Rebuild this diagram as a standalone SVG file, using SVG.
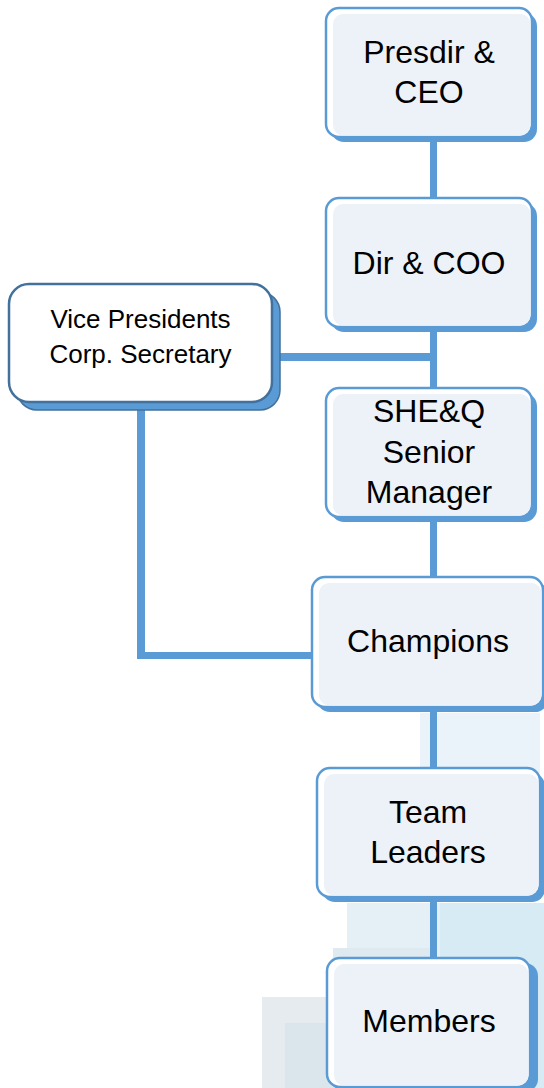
<svg xmlns="http://www.w3.org/2000/svg" width="544" height="1088" viewBox="0 0 544 1088">
<style>
.bg{fill:#ffffff}
.shadow{fill:#5b9bd5}
.outer{fill:#ffffff;stroke:#5b9bd5;stroke-width:2.5}
.inner{fill:#edf2f9}
.lbl{font-family:"Liberation Sans",Arial,sans-serif;font-size:32px;fill:#000000;text-anchor:middle}
.small{font-family:"Liberation Sans",Arial,sans-serif;font-size:26px;fill:#000000;text-anchor:middle}
.conn{fill:#5b9bd5}
.vpshadow{fill:#5b9bd5;stroke:#41719c;stroke-width:1.5}
.vpouter{fill:#ffffff;stroke:#41719c;stroke-width:2.5}
</style>
<rect class="bg" x="0" y="0" width="544" height="1088"/>
<g id="background" opacity="0.9">
<rect x="420" y="713" width="120" height="60" fill="#e7f2f8"/>
<rect x="347" y="903" width="197" height="185" fill="#e2eff5"/>
<rect x="440" y="903" width="104" height="185" fill="#d3e9f3"/>
<rect x="333" y="948" width="100" height="140" fill="#dbe8ef"/>
<rect x="262" y="997" width="80" height="91" fill="#e3e9ee"/>
<rect x="285" y="1023" width="60" height="65" fill="#d6e3ea"/>
</g>
<g id="connectors">
<rect class="conn" x="430" y="137" width="7" height="62"/>
<rect class="conn" x="430" y="327" width="7" height="62"/>
<rect class="conn" x="272" y="353" width="165" height="8"/>
<rect class="conn" x="430" y="517" width="7" height="61"/>
<rect class="conn" x="137" y="402" width="8" height="257"/>
<rect class="conn" x="137" y="652" width="176" height="7"/>
<rect class="conn" x="430" y="707" width="7" height="62"/>
<rect class="conn" x="430" y="897" width="7" height="62"/>
</g>
<g id="node-ceo">
<rect class="shadow" x="331" y="13" width="206" height="129" rx="13"/>
<rect class="outer" x="326" y="8" width="206" height="129" rx="13"/>
<rect class="inner" x="333" y="14" width="197.5" height="121.5" rx="10"/>
<text class="lbl" x="429" y="63">Presdir &amp;</text>
<text class="lbl" x="429" y="103">CEO</text>
</g>
<g id="node-coo">
<rect class="shadow" x="331" y="203" width="206" height="129" rx="13"/>
<rect class="outer" x="326" y="198" width="206" height="129" rx="13"/>
<rect class="inner" x="333" y="204" width="197.5" height="121.5" rx="10"/>
<text class="lbl" x="429" y="274">Dir &amp; COO</text>
</g>
<g id="node-vp">
<rect class="vpshadow" x="17" y="292" width="263" height="118" rx="20"/>
<rect class="vpouter" x="9" y="284" width="263" height="118" rx="20"/>
<text class="small" x="140.5" y="328">Vice Presidents</text>
<text class="small" x="140.5" y="363">Corp. Secretary</text>
</g>
<g id="node-sheq">
<rect class="shadow" x="331" y="393" width="206" height="129" rx="13"/>
<rect class="outer" x="326" y="388" width="206" height="129" rx="13"/>
<rect class="inner" x="333" y="394" width="197.5" height="121.5" rx="10"/>
<text class="lbl" x="429" y="422">SHE&amp;Q</text>
<text class="lbl" x="429" y="463">Senior</text>
<text class="lbl" x="429" y="503">Manager</text>
</g>
<g id="node-champions">
<rect class="shadow" x="317" y="582" width="231" height="130" rx="13"/>
<rect class="outer" x="312" y="577" width="231" height="130" rx="13"/>
<rect class="inner" x="319" y="583" width="222.5" height="122.5" rx="10"/>
<text class="lbl" x="428" y="652">Champions</text>
</g>
<g id="node-teamleaders">
<rect class="shadow" x="322" y="773" width="223" height="129" rx="13"/>
<rect class="outer" x="317" y="768" width="223" height="129" rx="13"/>
<rect class="inner" x="324" y="774" width="214.5" height="121.5" rx="10"/>
<text class="lbl" x="428" y="823">Team</text>
<text class="lbl" x="428" y="863">Leaders</text>
</g>
<g id="node-members">
<rect class="shadow" x="332" y="963" width="206" height="129" rx="13"/>
<rect class="outer" x="327" y="958" width="203" height="129" rx="13"/>
<rect class="inner" x="334" y="964" width="194.5" height="121.5" rx="10"/>
<text class="lbl" x="429" y="1032">Members</text>
</g>
</svg>
